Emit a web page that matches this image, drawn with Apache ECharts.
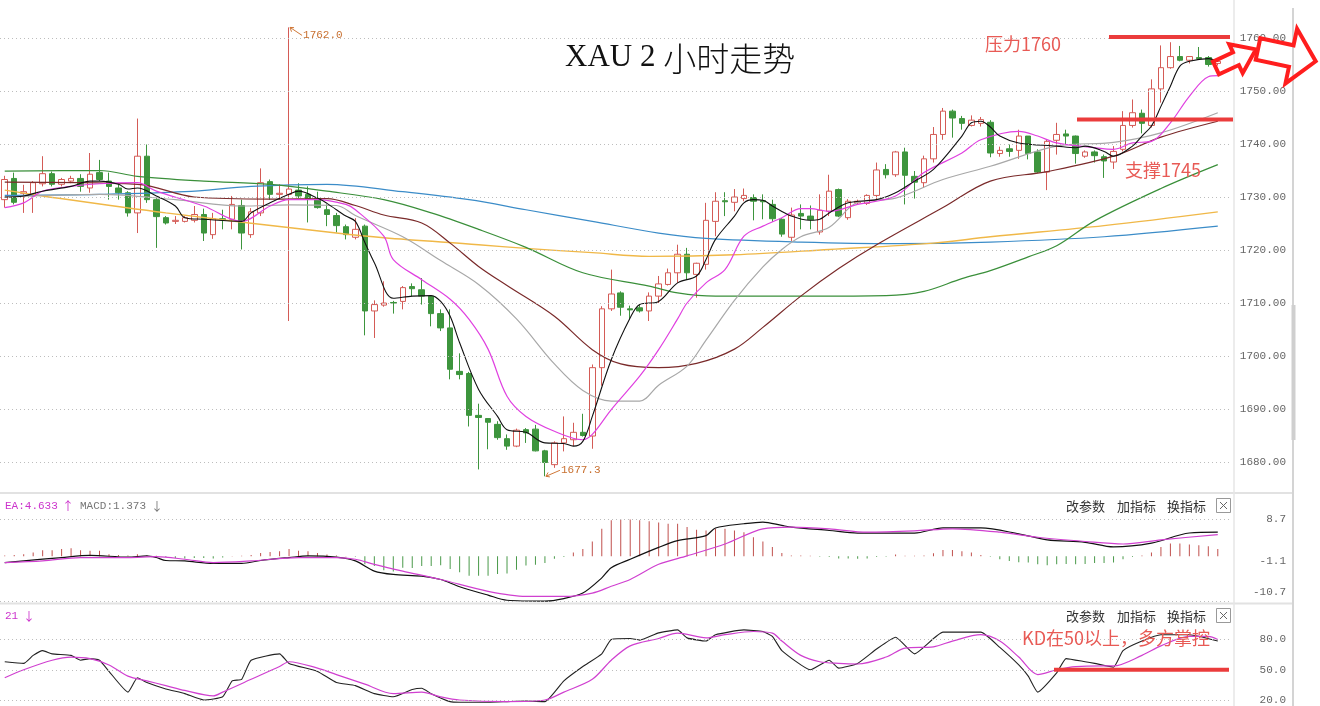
<!DOCTYPE html>
<html><head><meta charset="utf-8">
<script src="https://cdn.jsdelivr.net/npm/echarts@6/dist/echarts.min.js"></script>
<style>html,body{margin:0;padding:0;background:#fff}#c{width:1320px;height:706px}</style>
</head><body><div id="c"></div>
<script>
// ---------- DATA ----------
const categories = Array.from({length:130}, (_, i) => 'K' + (i + 1));
// [open, close, low, high]
const candles = [
[1729.5,1733.3,1728.0,1734.0],[1733.5,1729.0,1728.6,1734.6],[1730.7,1731.0,1727.0,1732.3],[1730.2,1732.7,1727.0,1733.0],
[1732.5,1734.4,1732.0,1737.7],[1734.4,1732.4,1732.0,1734.8],[1732.4,1733.3,1732.0,1733.6],[1733.0,1733.5,1732.6,1734.0],
[1733.5,1732.0,1731.0,1734.3],[1731.7,1734.3,1730.8,1738.3],[1734.6,1733.3,1733.0,1737.0],[1733.0,1732.0,1729.5,1734.6],
[1731.7,1730.8,1729.5,1732.4],[1730.8,1727.0,1726.3,1731.1],[1727.0,1737.7,1723.2,1744.8],[1737.7,1729.5,1728.9,1739.9],
[1729.5,1726.3,1720.4,1729.8],[1726.1,1725.1,1724.8,1726.4],[1725.4,1725.6,1724.9,1726.4],[1725.4,1726.1,1725.2,1726.4],
[1725.6,1726.7,1725.2,1728.3],[1726.7,1723.2,1721.7,1727.8],[1722.9,1725.9,1722.1,1727.0],[1725.9,1725.7,1723.9,1727.6],
[1725.8,1728.6,1723.9,1730.2],[1728.4,1723.2,1720.1,1729.5],[1722.9,1727.2,1722.3,1727.9],[1727.0,1732.7,1726.4,1735.4],
[1732.9,1730.5,1729.5,1733.3],[1730.5,1730.7,1729.5,1732.4],[1730.5,1731.5,1706.6,1762.0],[1731.3,1730.2,1729.8,1732.6],
[1730.5,1729.7,1725.2,1732.0],[1729.7,1728.0,1727.8,1731.0],[1727.6,1726.7,1724.5,1728.6],[1726.5,1724.6,1723.3,1727.0],
[1724.4,1722.9,1722.0,1724.8],[1722.4,1723.9,1722.0,1726.0],[1724.5,1708.5,1703.9,1724.8],[1708.5,1709.7,1703.4,1710.5],
[1709.6,1710.0,1709.3,1714.1],[1710.1,1710.0,1708.0,1710.4],[1710.3,1712.9,1708.8,1713.2],[1713.1,1712.7,1711.3,1713.7],
[1712.5,1711.3,1709.7,1714.7],[1711.3,1708.0,1705.6,1711.5],[1708.0,1705.3,1704.7,1708.8],[1705.3,1697.5,1695.6,1708.8],
[1697.1,1696.5,1695.6,1700.5],[1696.7,1688.8,1686.7,1697.0],[1688.8,1688.4,1678.6,1691.0],[1688.2,1687.5,1682.4,1688.3],
[1687.1,1684.6,1684.2,1687.7],[1684.4,1683.0,1682.3,1685.2],[1683.0,1686.0,1682.8,1686.3],[1686.1,1685.5,1683.6,1686.4],
[1686.2,1682.1,1682.0,1687.0],[1682.1,1679.9,1677.3,1682.3],[1679.5,1683.6,1678.9,1683.9],[1683.6,1684.4,1682.0,1688.6],
[1684.2,1685.6,1683.0,1687.4],[1685.6,1685.0,1684.8,1689.1],[1684.9,1697.8,1682.5,1698.4],[1697.8,1708.9,1694.4,1709.4],
[1708.9,1711.7,1708.5,1716.3],[1711.9,1709.2,1707.6,1712.2],[1708.9,1708.7,1707.0,1709.5],[1709.1,1708.5,1708.2,1709.6],
[1708.5,1711.3,1706.6,1712.0],[1711.3,1713.6,1710.0,1715.1],[1713.5,1715.7,1713.3,1716.5],[1715.7,1719.2,1713.8,1721.0],
[1719.2,1715.7,1714.4,1720.4],[1715.4,1717.5,1711.0,1717.6],[1717.3,1725.6,1716.3,1728.9],[1725.4,1729.2,1722.6,1730.9],
[1729.3,1729.1,1726.4,1730.9],[1729.0,1730.0,1727.3,1731.5],[1729.7,1730.3,1729.2,1731.6],[1729.9,1729.2,1725.6,1730.5],
[1729.3,1729.1,1725.8,1730.5],[1728.6,1725.9,1725.3,1729.5],[1725.8,1723.0,1722.5,1726.0],[1722.4,1726.6,1721.7,1728.0],
[1726.9,1726.4,1723.9,1728.6],[1726.4,1725.7,1723.9,1728.4],[1723.4,1727.5,1722.9,1730.5],[1727.3,1731.1,1726.4,1734.2],
[1731.4,1726.4,1726.2,1731.6],[1726.1,1729.2,1725.7,1729.6],[1728.9,1729.2,1728.5,1729.5],[1728.8,1730.3,1728.5,1730.5],
[1730.3,1735.1,1729.5,1736.5],[1735.2,1734.2,1733.5,1736.2],[1734.2,1738.5,1733.8,1738.7],[1738.5,1734.1,1728.6,1739.3],
[1733.9,1732.8,1729.7,1734.9],[1732.7,1737.2,1731.7,1737.8],[1737.2,1741.8,1736.5,1743.2],[1741.8,1746.2,1740.8,1746.8],
[1746.2,1744.9,1741.2,1746.5],[1744.8,1743.9,1742.7,1745.3],[1743.5,1744.5,1743.3,1745.4],[1743.9,1744.6,1743.3,1745.1],
[1744.1,1738.3,1737.5,1744.5],[1738.2,1738.8,1737.6,1739.5],[1739.1,1738.6,1737.6,1739.9],[1738.8,1741.5,1737.2,1742.7],
[1741.5,1738.2,1737.1,1741.5],[1738.5,1734.7,1734.5,1739.0],[1734.7,1740.5,1731.3,1740.8],[1740.7,1741.8,1738.0,1744.0],
[1741.9,1741.5,1740.0,1742.7],[1741.5,1738.2,1736.3,1741.6],[1737.7,1738.5,1737.4,1738.8],[1738.5,1737.8,1736.5,1738.8],
[1737.6,1736.8,1733.6,1738.0],[1736.6,1738.6,1735.3,1739.6],[1739.0,1743.5,1738.6,1746.2],[1743.5,1745.9,1743.1,1748.4],
[1745.8,1743.9,1742.0,1746.5],[1743.5,1750.4,1743.1,1752.2],[1750.4,1754.4,1747.8,1758.6],[1754.4,1756.5,1754.2,1759.2],
[1756.5,1755.8,1755.6,1758.5],[1755.8,1756.5,1755.2,1756.5],[1756.3,1756.1,1756.0,1758.3],[1756.3,1755.0,1754.6,1756.6],
[1755.2,1755.6,1754.8,1756.2]
];
// moving averages: [candle index, price]
const maBlack = [[0,1730.0],[2,1730.2],[4,1731.1],[7,1732],[9,1733],[10,1733],[12,1732.4],[13,1731.5],[14,1731.7],[16,1730.2],[18,1728.3],[19,1726.1],[21,1725.8],[25,1725.4],[26,1727],[28,1728.9],[30,1730.5],[31,1731.1],[33,1729.8],[34,1728.8],[36,1726.4],[37,1725.4],[38,1721.4],[39,1717.6],[41,1710.9],[43,1711.3],[45,1711.4],[46,1710.3],[47,1707.5],[48,1702.5],[50,1693.7],[52,1688.6],[53,1686.1],[55,1685.6],[57,1683.6],[59,1683.5],[60,1683],[61,1683.9],[62,1688.6],[64,1699.3],[66,1707.2],[67,1709.7],[69,1710.3],[71,1713.8],[73,1715.1],[74,1718.2],[75,1722],[77,1726.4],[78,1728.9],[79,1729.5],[80,1729.4],[81,1728.3],[83,1726.4],[85,1725.6],[86,1725.8],[87,1727],[89,1728.9],[92,1729.5],[94,1730.8],[96,1733],[98,1735.2],[101,1741.5],[102,1744],[103,1744.3],[104,1743.2],[105,1741.5],[107,1740.2],[111,1739.6],[113,1739.3],[114,1739.6],[116,1738.6],[117,1737.7],[119,1739.6],[120,1741.5],[121,1743.4],[122,1747.1],[123,1750.9],[124,1754.7],[125,1755.6],[127,1756.1],[128,1755.6]];
const maMagenta = [[0,1728.0],[2,1728.9],[4,1731.1],[7,1732.0],[10,1732.5],[14,1732.7],[16,1731.1],[21,1728.3],[25,1725.4],[28,1728.3],[30,1729.5],[33,1729.5],[36,1728.6],[37,1727.6],[40,1722.6],[41,1718.2],[44,1714.4],[47,1710.7],[49,1706.9],[51,1701.3],[53,1692.4],[55,1688.6],[58,1685.8],[61,1684.2],[62,1685.2],[64,1689.9],[67,1696.2],[69,1701.2],[71,1707],[72,1710],[74,1713.8],[76,1716.3],[78,1722.6],[80,1724.5],[82,1726.1],[84,1727.8],[85,1727.8],[87,1727.3],[90,1728.6],[94,1730.2],[97,1734.6],[101,1738.3],[103,1740.8],[107,1742.4],[109,1741.5],[111,1740.2],[115,1739.3],[117,1739],[119,1740.2],[121,1740.5],[123,1744],[125,1749],[127,1752.7],[128,1752.9]];
const maGray = [[0,1730.0],[10,1730.5],[18,1729.5],[25,1728.3],[30,1728.5],[35,1728.4],[37,1726.5],[42,1722.5],[46,1718],[50,1713.5],[54,1707],[58,1698.5],[61,1693.5],[64,1691.5],[67,1691.5],[69,1694.5],[72,1698.1],[74,1703],[77,1710.5],[80,1716.8],[82,1720.1],[84,1722.5],[87,1724.3],[90,1729.0],[94,1729.8],[99,1733.3],[104,1735.8],[111,1739.6],[117,1740.3],[122,1742.1],[128,1745.9]];
const maMaroon = [[0,1732.8],[14,1732.4],[20,1730.0],[28,1729.6],[34,1729.7],[37,1728.4],[40,1726.6],[44,1725.1],[47,1721.3],[50,1716.9],[53,1713.3],[58,1707.5],[62,1701.2],[65,1698.5],[69,1697.8],[73,1698.6],[77,1701.3],[80,1705.4],[84,1711.3],[88,1716.5],[92,1721.0],[99,1728.0],[104,1733.0],[110,1734.8],[117,1737.7],[122,1741.3],[128,1744.3]];
const maGreen = [[0,1734.9],[10,1735.0],[14,1733.9],[21,1733.0],[28,1732.4],[34,1731.1],[40,1729.5],[45,1727.0],[50,1723.9],[55,1720.5],[61,1715.7],[68,1713.2],[71,1711.9],[75,1711.3],[85,1711.3],[93,1711.4],[97,1712.2],[101,1714.6],[104,1716.1],[108,1718.7],[111,1720.8],[115,1725.5],[122,1731.6],[128,1736.1]];
const maBlue = [[0,1730.3],[10,1730.5],[19,1731.0],[26,1732.0],[34,1732.4],[42,1731.0],[49,1729.5],[55,1727.6],[62,1725.4],[69,1723.2],[74,1722.2],[84,1721.5],[94,1721.2],[104,1721.5],[116,1722.5],[128,1724.5]];
const maYellow = [[0,1731.3],[4,1730.2],[17,1727.0],[35,1723.2],[40,1722.3],[50,1721.0],[55,1720.3],[62,1719.5],[68,1718.8],[77,1719.1],[87,1720.1],[98,1721.3],[104,1722.5],[116,1724.6],[128,1727.2]];
const priceTicks = [1680,1690,1700,1710,1720,1730,1740,1750,1760];

const macdHist = [0.2,0.3,0.5,0.9,1.4,1.4,1.7,1.9,1.4,1.3,1.3,0.5,0.3,0.2,0.5,0.2,0.1,-0.2,-0.4,-0.5,-0.4,-0.4,-0.5,-0.3,0.05,0.1,0.3,0.8,1.0,1.2,1.7,1.3,1.2,0.8,0.4,0.2,0.05,-0.1,-1.9,-2.3,-3.3,-3.6,-2.7,-2.8,-2.3,-2.3,-2.1,-3.0,-3.8,-4.6,-4.6,-4.6,-4.2,-4.1,-3.2,-2.2,-2.0,-1.6,-0.6,-0.2,0.9,1.7,3.5,6.5,8.5,8.9,8.9,8.5,8.3,8.0,
7.7,7.7,6.9,6.3,6.1,6.5,6.5,6.1,5.7,4.5,3.5,2.2,0.8,0.2,0.2,0.1,-0.1,-0.2,-0.5,-0.5,-0.6,-0.5,-0.2,-0.1,0.4,0.1,0.1,0.2,0.7,1.5,1.5,1.2,0.9,0.3,-0.1,-0.7,-1.1,-1.4,-1.5,-1.9,-2.1,-1.9,-1.8,-1.9,-1.8,-1.6,-1.6,-1.5,-0.7,-0.2,0.2,0.9,2.2,3.0,3.0,2.8,2.6,2.4,1.7];
const macdDif = [[0,-1.5],[2,-1.1],[6,-0.3],[9,0.2],[13,-0.2],[15,0.1],[16,-0.3],[17,-1.0],[19,-1.1],[22,-1.7],[25,-1.7],[27,-1.0],[30,-0.3],[32,0.1],[35,-0.2],[37,-1.1],[39,-3.5],[41,-4.3],[44,-4.7],[46,-5.5],[48,-7.2],[51,-9.2],[53,-10.4],[57,-10.6],[59,-10],[61,-8.7],[63,-5.1],[64,-2.7],[66,-0.7],[69,2.1],[71,3.7],[74,4.9],[75,6.7],[78,7.7],[80,8.1],[82,7.3],[83,6.9],[87,6.1],[90,5.5],[96,5.5],[99,6.7],[103,6.7],[107,5.3],[110,3.9],[114,3.3],[117,2.2],[121,3.1],[125,5.5],[128,5.7]];
const macdDea = [[0,-1.5],[4,-1.1],[8,-0.3],[13,-0.3],[16,-0.1],[19,-0.7],[22,-1.5],[26,-1.1],[31,-0.3],[35,-0.3],[37,-0.7],[39,-1.9],[42,-3.5],[46,-5.5],[51,-8.3],[55,-9.5],[59,-9.5],[62,-8.7],[64,-7.1],[66,-5.5],[69,-1.9],[72,0.1],[76,2.9],[80,6.5],[83,6.9],[87,6.5],[91,5.7],[96,6.0],[100,6.5],[105,5.7],[109,4.5],[114,3.5],[118,2.9],[122,3.9],[128,5.1]];
const macdTicks = [-10.7,-1.1,8.7];

const kdK = [[0,57.8],[2,56.2],[3,64.0],[4,68.7],[5,65.5],[7,64.0],[8,59.3],[9,60.9],[10,59.3],[11,48.4],[13,28.2],[14,42.2],[15,37.6],[17,31.3],[19,26.7],[21,20.5],[23,23.6],[24,39.1],[25,40.7],[26,59.3],[29,65.5],[30,56.2],[33,48.4],[35,37.6],[37,34.5],[39,26.7],[41,23.6],[43,30.7],[44,32.0],[45,26.7],[47,18.9],[48,18.3],[51,18.3],[53,18.9],[55,19.5],[57,18.9],[59,39.1],[61,53.1],[63,65.5],[64,79.5],[66,80.5],[67,78.9],[69,86],[71,88.9],[72,81.1],[74,78],[75,84.2],[78,88.9],[80,87.3],[81,82.6],[82,68.7],[85,50],[87,59.3],[88,51.6],[90,56.2],[92,70.2],[94,81.7],[96,65.5],[99,86.7],[103,86.7],[105,71.8],[107,54.7],[108,43.8],[109,28.2],[111,46.9],[112,60.9],[114,57.8],[115,56.2],[117,52.5],[118,68.7],[120,78],[122,84.2],[125,84.2],[126,82.6],[128,78]];
const kdD = [[0,42.2],[2,50],[5,59.3],[7,62.4],[9,60.9],[11,54.7],[13,43.8],[15,39.1],[17,34.5],[19,29.8],[22,24.5],[23,28.2],[26,40.7],[29,53.1],[30,57.8],[33,51.6],[35,45.3],[38,36],[41,26.7],[44,28.2],[46,23.6],[48,20.5],[53,18.9],[57,20.5],[59,28.2],[62,40.7],[64,59.3],[66,73.3],[69,80.5],[71,85.8],[74,81.1],[76,84.2],[79,87.3],[81,85.8],[82,78],[84,64],[86,57.8],[88,56.2],[90,55.6],[93,62.4],[95,71.1],[98,72.4],[100,78],[103,84.2],[105,78],[107,62.4],[109,45.3],[111,50],[113,53.1],[116,53.7],[117,53.7],[120,64],[122,73.3],[125,82.6],[127,82.6],[128,79.5]];
const kdTicks = [20,50,80];

// ---------- CHART ----------
const RED = '#d45b56', GREEN = '#3d953d';
const MONO = '"Liberation Mono", "DejaVu Sans Mono", monospace';
const CJK = '"Noto Sans CJK SC", "Noto Sans", sans-serif';
const chart = echarts.init(document.getElementById('c'), null, {renderer: 'canvas'});

function maSeries(name, data, color, width) {
  return {type: 'line', name, data, xAxisIndex: 0, yAxisIndex: 0, symbol: 'none', smooth: 0.35,
    lineStyle: {color, width: width || 1.2}, z: 4, silent: true};
}
function gridLines(values) {
  return {symbol: 'none', silent: true, label: {show: false},
    lineStyle: {color: '#bdbdbd', type: [1, 3], width: 1},
    data: values.map(v => ({yAxis: v}))};
}
const axisCommon = {type: 'category', data: categories, show: false, boundaryGap: true};

chart.setOption({
  animation: false,
  backgroundColor: '#ffffff',
  grid: [
    {left: 0, width: 1232, top: 0, height: 515},
    {left: 0, width: 1232, top: 519.5, height: 82},
    {left: 0, width: 1232, top: 639, height: 64.3}
  ],
  xAxis: [
    Object.assign({gridIndex: 0}, axisCommon),
    Object.assign({gridIndex: 1}, axisCommon),
    Object.assign({gridIndex: 2}, axisCommon)
  ],
  yAxis: [
    {gridIndex: 0, type: 'value', position: 'right', min: 1670, max: 1767.17, interval: 10,
      axisLine: {show: false}, axisTick: {show: false}, splitLine: {show: false},
      axisLabel: {align: 'right', margin: 54, color: '#666', fontFamily: MONO, fontSize: 11,
        formatter: v => (priceTicks.indexOf(v) >= 0 ? v.toFixed(2) : '')}},
    {gridIndex: 1, type: 'value', position: 'right', min: -10.7, max: 8.7,
      axisLine: {show: false}, axisTick: {show: false}, splitLine: {show: false},
      axisLabel: {customValues: macdTicks, showMinLabel: true, showMaxLabel: true, align: 'right', margin: 54, color: '#666', fontFamily: MONO, fontSize: 11,
        formatter: v => (v < -10 ? '{lo|' + v.toFixed(1) + '}' : v.toFixed(1)),
        rich: {lo: {fontFamily: MONO, fontSize: 11, color: '#666', padding: [0, 0, 18, 0]}}}},
    {gridIndex: 2, type: 'value', position: 'right', min: 20, max: 80, interval: 30,
      axisLine: {show: false}, axisTick: {show: false}, splitLine: {show: false},
      axisLabel: {align: 'right', margin: 54, color: '#666', fontFamily: MONO, fontSize: 11,
        formatter: v => v.toFixed(1)}}
  ],
  series: [
    {type: 'line', name: 'grid0', data: [], xAxisIndex: 0, yAxisIndex: 0, z: 1, markLine: gridLines(priceTicks)},
    {type: 'candlestick', name: 'XAU', data: candles, xAxisIndex: 0, yAxisIndex: 0, z: 3, barWidth: 6,
      itemStyle: {color: '#ffffff', color0: GREEN, borderColor: RED, borderColor0: GREEN, borderWidth: 1}},
    maSeries('MA120', maBlue, '#3b8cc8'),
    maSeries('MA250', maYellow, '#f0b848', 1.4),
    maSeries('MA60', maGreen, '#3a8f3a'),
    maSeries('MA30', maMaroon, '#7a2a2a'),
    maSeries('MA20', maGray, '#a8a8a8'),
    maSeries('MA10', maMagenta, '#e040e0'),
    maSeries('MA5', maBlack, '#111111', 1.1),
    {type: 'bar', name: 'MACD', data: macdHist, xAxisIndex: 1, yAxisIndex: 1, barWidth: 1, z: 2,
      itemStyle: {color: p => (p.value >= 0 ? '#c0504d' : '#4a9a4a')},
      markLine: gridLines([8.7, -10.7])},
    {type: 'line', name: 'DIF', data: macdDif, xAxisIndex: 1, yAxisIndex: 1, symbol: 'none', smooth: 0.3, clip: false,
      lineStyle: {color: '#111', width: 1.2}, z: 4},
    {type: 'line', name: 'DEA', data: macdDea, xAxisIndex: 1, yAxisIndex: 1, symbol: 'none', smooth: 0.3, clip: false,
      lineStyle: {color: '#d040d0', width: 1.2}, z: 4},
    {type: 'line', name: 'K', data: kdK, xAxisIndex: 2, yAxisIndex: 2, symbol: 'none', smooth: 0.15, clip: false,
      lineStyle: {color: '#222', width: 1.1}, z: 4, markLine: gridLines(kdTicks)},
    {type: 'line', name: 'D', data: kdD, xAxisIndex: 2, yAxisIndex: 2, symbol: 'none', smooth: 0.3, clip: false,
      lineStyle: {color: '#d040d0', width: 1.2}, z: 4}
  ]
});

// ---------- ANNOTATIONS ----------
const px = (gi, x, y) => chart.convertToPixel({xAxisIndex: gi, yAxisIndex: gi}, [x, y]);
const hi = px(0, 30, 1762.0);
const lo = px(0, 57, 1677.3);
const yRes = px(0, 0, 1760.2)[1];
const ySup = px(0, 0, 1744.6)[1];
const yKD = px(2, 0, 50)[1];
const ANNO = '#eb3c3c';

function arrowShape(x0, y0, deg, L, L1, h1, h2) {
  const a = deg * Math.PI / 180, c = Math.cos(a), s = Math.sin(a);
  const pts = [[0, -h1], [L1, -h1], [L1, -h2], [L, 0], [L1, h2], [L1, h1], [0, h1]];
  return pts.map(([u, v]) => [x0 + u * c - v * s, y0 + u * s + v * c]);
}
function pointer(p, dx, dy, label) {
  const a = Math.atan2(dy, dx);
  const h = 5, w = 0.5;
  return [
    {type: 'line', shape: {x1: p[0] + 1, y1: p[1], x2: p[0] + dx, y2: p[1] + dy}, style: {stroke: '#d07838', lineWidth: 1}, z: 50},
    {type: 'polyline', shape: {points: [[p[0] + h * Math.cos(a - w), p[1] + h * Math.sin(a - w)], [p[0] + 1, p[1]], [p[0] + h * Math.cos(a + w), p[1] + h * Math.sin(a + w)]]},
      style: {stroke: '#d07838', lineWidth: 1, fill: null}, z: 50},
    {type: 'text', x: p[0] + dx + 1, y: p[1] + dy, style: {text: label, fill: '#c87030', font: '11px ' + MONO, textAlign: 'left', textVerticalAlign: 'middle'}, z: 50}
  ];
}
function header(y) {
  return [
    {type: 'text', x: 1066, y: y, style: {text: '改参数', fill: '#333', font: '13px ' + CJK, textVerticalAlign: 'middle'}},
    {type: 'text', x: 1117, y: y, style: {text: '加指标', fill: '#333', font: '13px ' + CJK, textVerticalAlign: 'middle'}},
    {type: 'text', x: 1167, y: y, style: {text: '换指标', fill: '#333', font: '13px ' + CJK, textVerticalAlign: 'middle'}},
    {type: 'rect', shape: {x: 1216.5, y: y - 7.5, width: 14, height: 14}, style: {fill: '#fff', stroke: '#999', lineWidth: 1}},
    {type: 'line', shape: {x1: 1220, y1: y - 4, x2: 1227, y2: y + 3}, style: {stroke: '#666', lineWidth: 1}},
    {type: 'line', shape: {x1: 1227, y1: y - 4, x2: 1220, y2: y + 3}, style: {stroke: '#666', lineWidth: 1}}
  ];
}

const g = [
  // frame lines
  {type: 'line', shape: {x1: 0, y1: 493, x2: 1293, y2: 493}, style: {stroke: '#e2e2e2', lineWidth: 2}, z: 20},
  {type: 'line', shape: {x1: 0, y1: 603.5, x2: 1293, y2: 603.5}, style: {stroke: '#e2e2e2', lineWidth: 2}, z: 20},
  {type: 'line', shape: {x1: 1234, y1: 0, x2: 1234, y2: 706}, style: {stroke: '#e6e6e6', lineWidth: 1.5}, z: 20},
  {type: 'line', shape: {x1: 1293, y1: 8, x2: 1293, y2: 706}, style: {stroke: '#d4d4d4', lineWidth: 2}, z: 20},
  {type: 'line', shape: {x1: 1293.5, y1: 305, x2: 1293.5, y2: 440}, style: {stroke: '#cfcfcf', lineWidth: 4}, z: 20},
  // title
  {type: 'text', x: 565, y: 58, z: 30, style: {
    text: '{a|XAU 2 }{b|小时走势}', textAlign: 'left', textVerticalAlign: 'middle',
    rich: {
      a: {fontFamily: '"Liberation Serif", "DejaVu Serif", serif', fontSize: 31, fill: '#111', color: '#111'},
      b: {fontFamily: CJK, fontSize: 33, fontWeight: 300, fill: '#111', color: '#111'}
    }}},
  // resistance / support
  {type: 'line', shape: {x1: 1109, y1: yRes, x2: 1230, y2: yRes}, style: {stroke: ANNO, lineWidth: 4}, z: 30},
  {type: 'line', shape: {x1: 1077, y1: ySup, x2: 1233, y2: ySup}, style: {stroke: ANNO, lineWidth: 4}, z: 30},
  {type: 'text', x: 985, y: 44, style: {text: '压力1760', fill: '#e85a55', font: '18px ' + CJK, textVerticalAlign: 'middle'}, z: 30},
  {type: 'text', x: 1125, y: 170, style: {text: '支撑1745', fill: '#e85a55', font: '18px ' + CJK, textVerticalAlign: 'middle'}, z: 30},
  // KD note
  {type: 'line', shape: {x1: 1054, y1: yKD, x2: 1229, y2: yKD}, style: {stroke: ANNO, lineWidth: 4}, z: 30},
  {type: 'text', x: 1022, y: 638, style: {text: 'KD在50以上，多方掌控', fill: '#e85a55', font: '18px ' + CJK, textVerticalAlign: 'middle'}, z: 30},
  // arrows
  {type: 'polygon', shape: {points: arrowShape(1216, 68, -25, 44, 22, 7, 16)}, style: {fill: 'rgba(255,255,255,0)', stroke: '#ff1e1e', lineWidth: 4, lineJoin: 'miter'}, z: 40},
  {type: 'polygon', shape: {points: arrowShape(1258, 49, 12, 59, 34, 11, 28)}, style: {fill: 'rgba(255,255,255,0)', stroke: '#ff1e1e', lineWidth: 4, lineJoin: 'miter'}, z: 40},
  // panel headers
  {type: 'text', x: 5, y: 506, style: {text: 'EA:4.633', fill: '#cc33cc', font: '11px ' + MONO, textVerticalAlign: 'middle'}},
  {type: 'text', x: 62, y: 506, style: {text: '↑', fill: '#cc33cc', font: '12px ' + CJK, textVerticalAlign: 'middle'}},
  {type: 'text', x: 80, y: 506, style: {text: 'MACD:1.373', fill: '#777', font: '11px ' + MONO, textVerticalAlign: 'middle'}},
  {type: 'text', x: 151, y: 506, style: {text: '↓', fill: '#777', font: '12px ' + CJK, textVerticalAlign: 'middle'}},
  {type: 'text', x: 5, y: 616, style: {text: '21', fill: '#cc33cc', font: '11px ' + MONO, textVerticalAlign: 'middle'}},
  {type: 'text', x: 23, y: 616, style: {text: '↓', fill: '#cc33cc', font: '12px ' + CJK, textVerticalAlign: 'middle'}}
].concat(header(506), header(616), pointer(hi, 13, 8, '1762.0'), pointer(lo, 15, -6, '1677.3'));

chart.setOption({graphic: g});
</script>
</body></html>
